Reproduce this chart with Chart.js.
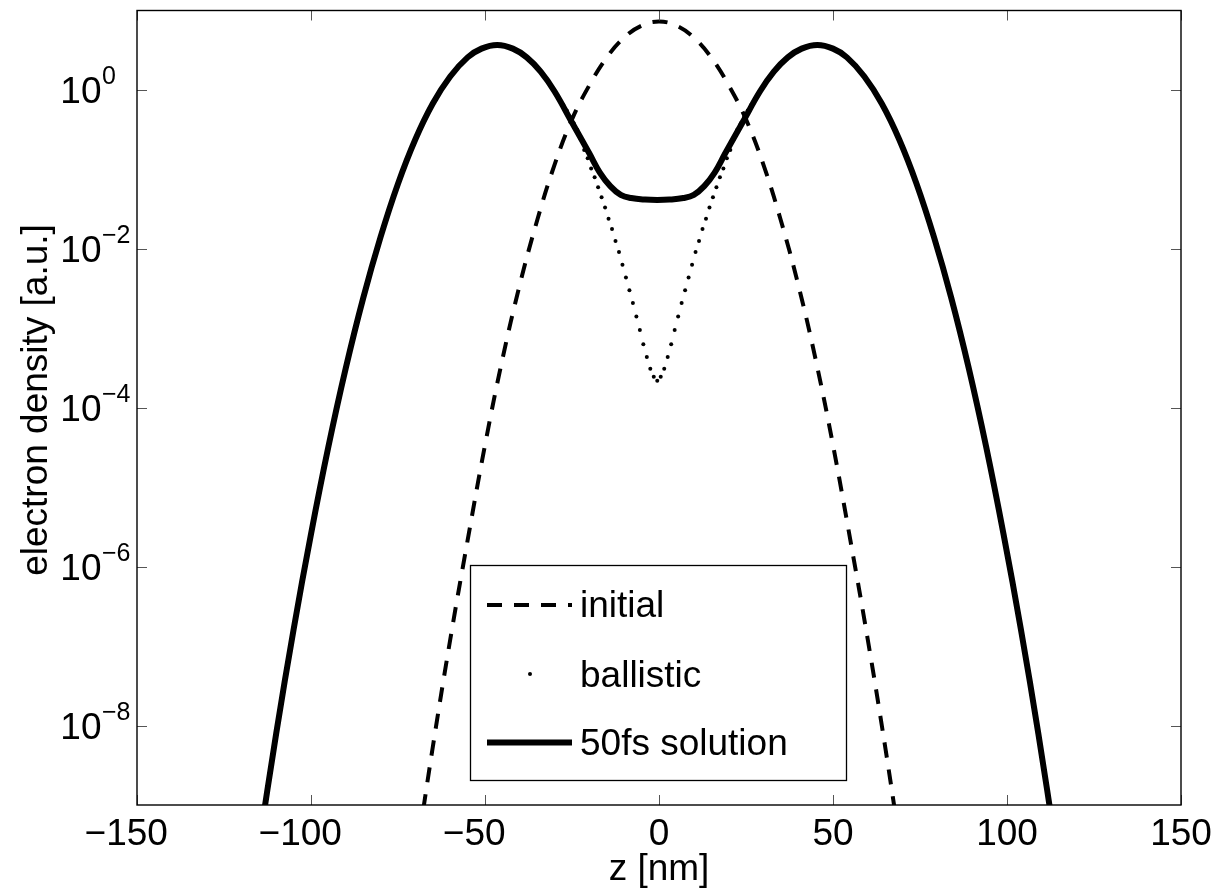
<!DOCTYPE html>
<html>
<head>
<meta charset="utf-8">
<script src="https://cdn.jsdelivr.net/npm/chart.js@4.4.1/dist/chart.umd.min.js"></script>
<style>
  html, body { margin: 0; padding: 0; background: #fff; }
</style>
</head>
<body>
<canvas id="rel1" width="1224" height="895"></canvas>
<script>
var FONT = "'Liberation Sans', Arial, Helvetica, sans-serif";

// initial density, log10 values
var initialZ = [-70, -65, -60, -55, -50, -45, -40, -35, -30, -25, -20, -15, -10, -5, 0,
                5, 10, 15, 20, 25, 30, 35, 40, 45, 50, 55, 60, 65, 70];
var initialLog = [-9.72, -8.27, -6.92, -5.67, -4.47, -3.39, -2.45, -1.64, -0.94, -0.37, 0.06, 0.41, 0.66, 0.81, 0.86,
                  0.81, 0.66, 0.41, 0.06, -0.37, -0.94, -1.64, -2.45, -3.39, -4.47, -5.67, -6.92, -8.27, -9.72];

// ballistic (dots)
var ballisticZ = [-115, -110, -105, -100, -95, -90, -85, -80, -75, -70, -65, -60, -55, -50, -45, -40, -35,
    -29.5, -28.5, -27.5, -26.5, -25.5, -24.5, -23.5, -22.5, -21.5, -20.5, -19.5, -18.5, -17.5, -16.5, -15.5,
    -14.5, -13.5, -12.5, -11.5, -10.5, -9.5, -8.5, -7.5, -6.5, -5.5, -4.5, -3.5, -2.5, -1.5, -0.5,
    0.5, 1.5, 2.5, 3.5, 4.5, 5.5, 6.5, 7.5, 8.5, 9.5, 10.5, 11.5, 12.5, 13.5, 14.5,
    15.5, 16.5, 17.5, 18.5, 19.5, 20.5, 21.5, 22.5, 23.5, 24.5, 25.5, 26.5, 27.5, 28.5,
    34, 39, 44, 49, 54, 59, 64, 69, 74, 79, 84, 89, 94, 99, 104, 109, 114];
var ballisticLog = [-9.52, -8.10, -6.79, -5.59, -4.49, -3.50, -2.62, -1.85, -1.18, -0.62, -0.17, 0.17, 0.41, 0.54, 0.56, 0.47, 0.28,
    -0.05, -0.12, -0.19, -0.26, -0.34, -0.42, -0.50, -0.62, -0.756, -0.86, -0.99, -1.10, -1.225, -1.35, -1.48,
    -1.62, -1.75, -1.90, -2.04, -2.20, -2.36, -2.52, -2.68, -2.85, -3.02, -3.20, -3.36, -3.51, -3.61, -3.66,
    -3.61, -3.51, -3.36, -3.20, -3.02, -2.85, -2.68, -2.52, -2.36, -2.20, -2.04, -1.90, -1.75, -1.62, -1.48,
    -1.35, -1.225, -1.10, -0.99, -0.86, -0.756, -0.62, -0.50, -0.42, -0.34, -0.26, -0.19, -0.12, -0.05,
    0.28, 0.47, 0.56, 0.54, 0.41, 0.17, -0.17, -0.62, -1.18, -1.85, -2.62, -3.50, -4.49, -5.59, -6.79, -8.10, -9.52];

// 50fs solution
var solidZ = [-115, -110, -105, -100, -95, -90, -85, -80, -75, -70, -65, -60, -55, -51, -46.5, -42, -38, -34, -30, -25,
    -20, -17, -14, -11, -8, -4, -0.5, 3, 7, 10, 13, 16, 19,
    24, 29, 33, 37, 41, 45.5, 50, 54, 59, 64, 69, 74, 79, 84, 89, 94, 99, 104, 109, 114];
var solidLog = [-9.52, -8.10, -6.79, -5.59, -4.49, -3.50, -2.62, -1.85, -1.18, -0.62, -0.17, 0.17, 0.41, 0.52, 0.565, 0.52, 0.41, 0.23, -0.02, -0.41,
    -0.80, -1.04, -1.21, -1.32, -1.36, -1.38, -1.385, -1.38, -1.36, -1.32, -1.21, -1.04, -0.80,
    -0.41, -0.02, 0.23, 0.41, 0.52, 0.565, 0.52, 0.41, 0.17, -0.17, -0.62, -1.18, -1.85, -2.62, -3.50, -4.49, -5.59, -6.79, -8.10, -9.52];

var xTicks = [-150, -100, -50, 0, 50, 100, 150];
var yTickExp = [-8, -6, -4, -2, 0];
var yTitle = 'electron density [a.u.]';

function toPoints(zs, logs) {
    return zs.map(function(z, i) { return {x: z, y: Math.pow(10, logs[i])}; });
}

var decor = {
    id: 'decor',
    afterDatasetsDraw: function(chart) {
        var ctx = chart.ctx, a = chart.chartArea;
        var xs = chart.scales.x, ys = chart.scales.y;
        ctx.save();

        // ticks (inward, all four sides)
        ctx.strokeStyle = '#555';
        ctx.lineWidth = 1;
        ctx.beginPath();
        xs.ticks.forEach(function(t) {
            var p = Math.round(xs.getPixelForValue(t.value)) + 0.5;
            ctx.moveTo(p, a.bottom); ctx.lineTo(p, a.bottom - 10);
            ctx.moveTo(p, a.top); ctx.lineTo(p, a.top + 10);
        });
        ys.ticks.forEach(function(t) {
            var p = Math.round(ys.getPixelForValue(t.value)) + 0.5;
            ctx.moveTo(a.left, p); ctx.lineTo(a.left + 10, p);
            ctx.moveTo(a.right, p); ctx.lineTo(a.right - 10, p);
        });
        ctx.stroke();

        // frame
        ctx.strokeStyle = '#000';
        ctx.lineWidth = 1.4;
        ctx.strokeRect(a.left, a.top, a.right - a.left, a.bottom - a.top);

        ctx.fillStyle = '#000';
        ctx.textBaseline = 'alphabetic';

        // x tick labels: digits centred on the tick, minus hanging left
        ctx.font = '37px ' + FONT;
        xs.ticks.forEach(function(t) {
            var p = xs.getPixelForValue(t.value);
            var s = '' + Math.abs(t.value);
            ctx.textAlign = 'center';
            ctx.fillText(s, p, 845);
            if (t.value < 0) {
                ctx.textAlign = 'right';
                ctx.fillText('\u2212', p - ctx.measureText(s).width / 2, 845);
            }
        });

        // y tick labels 10^n
        ys.ticks.forEach(function(t) {
            var p = ys.getPixelForValue(t.value);
            var e = Math.round(Math.log10(t.value));
            ctx.font = '37px ' + FONT;
            ctx.textAlign = 'right';
            ctx.fillText('10', 101.5, p + 13.5);
            ctx.font = '25px ' + FONT;
            ctx.textAlign = 'left';
            ctx.fillText(e < 0 ? '\u2212' + Math.abs(e) : '' + e, 102, p - 6);
        });

        // y axis title
        ctx.save();
        ctx.font = '37px ' + FONT;
        ctx.translate(47, 400);
        ctx.rotate(-Math.PI / 2);
        ctx.textAlign = 'center';
        ctx.fillText(yTitle, 0, 0);
        ctx.restore();

        // legend
        var ds = chart.data.datasets;
        ctx.lineWidth = 1.3;
        ctx.strokeStyle = '#000';
        ctx.fillStyle = '#fff';
        ctx.fillRect(470.5, 565.5, 376, 215);
        ctx.strokeRect(470.5, 565.5, 376, 215);

        ctx.lineCap = 'butt';
        ctx.setLineDash(ds[0].borderDash);
        ctx.lineWidth = ds[0].borderWidth;
        ctx.beginPath(); ctx.moveTo(487, 605); ctx.lineTo(572, 605); ctx.stroke();
        ctx.setLineDash([]);

        ctx.fillStyle = '#000';
        ctx.beginPath(); ctx.arc(530, 674, ds[1].pointRadius, 0, Math.PI * 2); ctx.fill();

        ctx.lineWidth = ds[2].borderWidth;
        ctx.beginPath(); ctx.moveTo(487, 742.5); ctx.lineTo(572, 742.5); ctx.stroke();

        ctx.font = '37px ' + FONT;
        ctx.textAlign = 'left';
        ctx.fillText(ds[0].label, 580, 617);
        ctx.fillText(ds[1].label, 580, 687);
        ctx.fillText(ds[2].label, 580, 755);

        ctx.restore();
    }
};

var rel1 = new Chart(document.getElementById('rel1'), {
    type: 'line',
    data: {
        datasets: [{
            label: 'initial',
            data: toPoints(initialZ, initialLog),
            borderColor: '#000',
            borderWidth: 4,
            borderDash: [15, 12],
            pointRadius: 0,
            fill: false,
            tension: 0.4,
            clip: 0,
            order: 2
        }, {
            label: 'ballistic',
            data: toPoints(ballisticZ, ballisticLog),
            showLine: false,
            pointRadius: 2,
            pointBackgroundColor: '#000',
            pointBorderWidth: 0,
            borderColor: '#000',
            clip: 0,
            order: 1
        }, {
            label: '50fs solution',
            data: toPoints(solidZ, solidLog),
            borderColor: '#000',
            borderWidth: 6,
            borderJoinStyle: 'round',
            pointRadius: 0,
            fill: false,
            tension: 0.4,
            clip: 0,
            order: 0
        }]
    },
    options: {
        responsive: false,
        animation: false,
        devicePixelRatio: 1,
        layout: { padding: { left: 0, right: 43, top: 10.5, bottom: 0 } },
        plugins: { legend: { display: false }, tooltip: { enabled: false } },
        scales: {
            x: {
                type: 'linear',
                position: 'bottom',
                min: -150,
                max: 150,
                afterBuildTicks: function(s) { s.ticks = xTicks.map(function(v) { return {value: v}; }); },
                afterFit: function(s) { s.height = 90; },
                ticks: { display: false },
                grid: { display: false, drawTicks: false },
                border: { display: false },
                title: {
                    display: true,
                    text: 'z [nm]',
                    color: '#000',
                    font: { family: FONT, size: 37 },
                    padding: { top: 0, bottom: 3 }
                }
            },
            y: {
                type: 'logarithmic',
                min: 1e-9,
                max: 10,
                afterBuildTicks: function(s) { s.ticks = yTickExp.map(function(e) { return {value: Math.pow(10, e)}; }); },
                afterFit: function(s) { s.width = 137; },
                ticks: { display: false },
                grid: { display: false, drawTicks: false },
                border: { display: false }
            }
        }
    },
    plugins: [decor]
});
</script>
</body>
</html>
